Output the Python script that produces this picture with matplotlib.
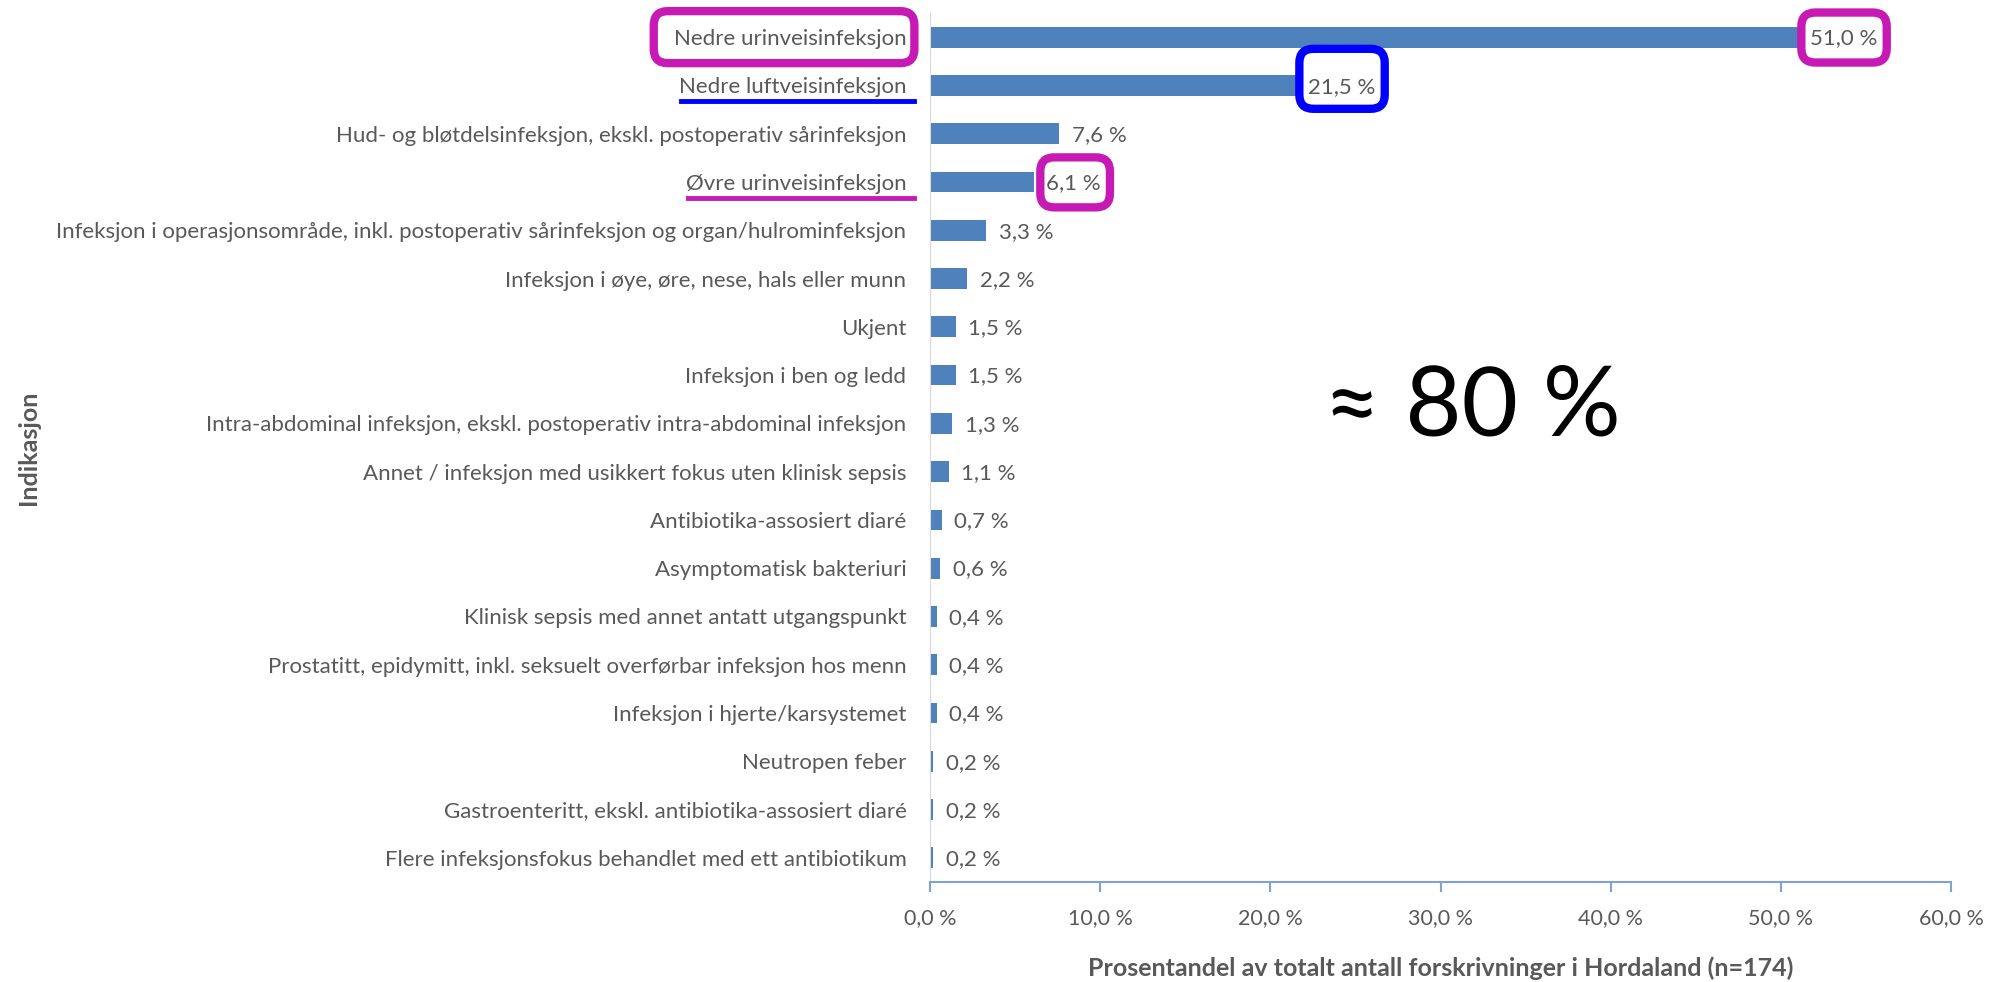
import matplotlib
matplotlib.use("Agg")
import matplotlib.pyplot as plt
from matplotlib.patches import FancyBboxPatch
from matplotlib.lines import Line2D
from matplotlib.transforms import IdentityTransform

plt.rcParams['font.family'] = ['Lato', 'DejaVu Sans']

categories = [
    "Nedre urinveisinfeksjon",
    "Nedre luftveisinfeksjon",
    "Hud- og bløtdelsinfeksjon, ekskl. postoperativ sårinfeksjon",
    "Øvre urinveisinfeksjon",
    "Infeksjon i operasjonsområde, inkl. postoperativ sårinfeksjon og organ/hulrominfeksjon",
    "Infeksjon i øye, øre, nese, hals eller munn",
    "Ukjent",
    "Infeksjon i ben og ledd",
    "Intra-abdominal infeksjon, ekskl. postoperativ intra-abdominal infeksjon",
    "Annet / infeksjon med usikkert fokus uten klinisk sepsis",
    "Antibiotika-assosiert diaré",
    "Asymptomatisk bakteriuri",
    "Klinisk sepsis med annet antatt utgangspunkt",
    "Prostatitt, epidymitt, inkl. seksuelt overførbar infeksjon hos menn",
    "Infeksjon i hjerte/karsystemet",
    "Neutropen feber",
    "Gastroenteritt, ekskl. antibiotika-assosiert diaré",
    "Flere infeksjonsfokus behandlet med ett antibiotikum",
]
values = [51.0, 21.5, 7.6, 6.1, 3.3, 2.2, 1.5, 1.5, 1.3, 1.1,
          0.7, 0.6, 0.4, 0.4, 0.4, 0.2, 0.2, 0.2]
xticks = [0, 10, 20, 30, 40, 50, 60]

gray = "#595959"
bar_color = "#4F81BD"
magenta = "#C71AB5"
blue = "#0000FF"

fig = plt.figure(figsize=(19.95, 9.82), dpi=100)
ax = fig.add_axes([930 / 1995, 1 - 882 / 982, (1951 - 930) / 1995, (882 - 13) / 982])

ypos = list(range(len(categories)))
ax.barh(ypos, values, height=0.43, color=bar_color)
ax.set_ylim(len(categories) - 0.5, -0.5)
ax.set_xlim(0, 60)
ax.set_yticks(ypos)
ax.set_yticklabels(categories, fontsize=16, color=gray)
ax.set_xticks(xticks)
ax.set_xticklabels([f"{t:.1f}".replace(".", ",") + " %" for t in xticks],
                   fontsize=15.5, color=gray)
ax.tick_params(axis='y', length=0, pad=17)
ax.tick_params(axis='x', length=7, color="#7FA3D1", width=1.5, pad=12)

for s in ["top", "right"]:
    ax.spines[s].set_visible(False)
ax.spines["left"].set_color("#D9D9D9")
ax.spines["bottom"].set_color("#7FA3D1")
ax.spines["bottom"].set_linewidth(1.5)

value_texts = []
for y, v in zip(ypos, values):
    t = ax.annotate(f"{v:.1f}".replace(".", ",") + " %", (v, y),
                    xytext=(9, -1), textcoords="offset points",
                    va="center", ha="left", fontsize=16, color=gray)
    value_texts.append(t)

ax.set_xlabel("Prosentandel av totalt antall forskrivninger i Hordaland (n=174)",
              fontsize=18, fontweight="bold", color=gray, labelpad=20)
fig.text(28 / 1995, 1 - 448 / 982, "Indikasjon", rotation=90, fontsize=18,
         fontweight="bold", color=gray, ha="center", va="center")

fig.text(1472 / 1995, 1 - 409 / 982, "≈ 80 %", fontsize=70, color="black",
         ha="center", va="center")

# highlight boxes and underlines around texts
fig.canvas.draw()
renderer = fig.canvas.get_renderer()


def box(artist, color, pl, pr, pb, pt):
    bb = artist.get_window_extent(renderer)
    p = FancyBboxPatch((bb.x0 - pl, bb.y0 - pb), bb.width + pl + pr,
                       bb.height + pb + pt,
                       boxstyle="round,pad=0,rounding_size=14",
                       fill=False, edgecolor=color, linewidth=6,
                       transform=IdentityTransform(), zorder=10)
    fig.add_artist(p)


def underline(artist, color):
    bb = artist.get_window_extent(renderer)
    fig.add_artist(Line2D([bb.x0 + 2, bb.x1 + 8], [bb.y0 - 4, bb.y0 - 4],
                          color=color, linewidth=3.5,
                          transform=IdentityTransform()))


ylabels = ax.get_yticklabels()
box(ylabels[0], magenta, 20, 8, 14, 18)
underline(ylabels[1], blue)
underline(ylabels[3], magenta)
box(value_texts[0], magenta, 9, 9, 14, 16)
box(value_texts[1], blue, 9, 9, 12, 28)
box(value_texts[3], magenta, 6, 9, 14, 16)

fig.savefig("out.png", dpi=100)
